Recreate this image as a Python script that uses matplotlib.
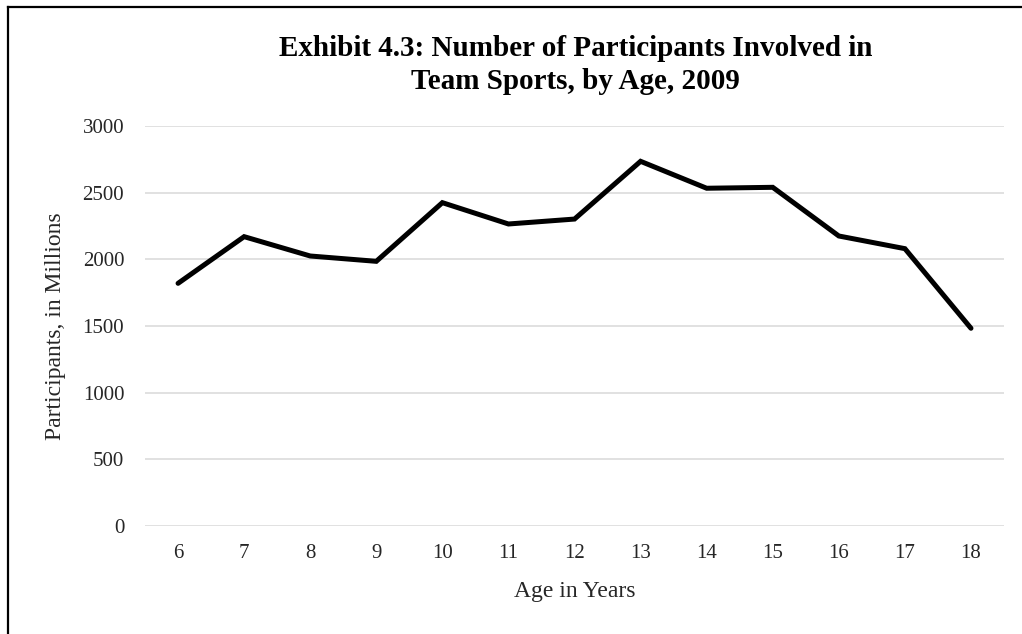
import matplotlib
matplotlib.use("Agg")
import matplotlib.pyplot as plt
from matplotlib.lines import Line2D

ages = [6, 7, 8, 9, 10, 11, 12, 13, 14, 15, 16, 17, 18]
participants = [1820, 2170, 2025, 1985, 2425, 2265, 2302, 2735, 2533, 2540, 2175, 2080, 1483]
y_ticks = [0, 500, 1000, 1500, 2000, 2500, 3000]

title = "Exhibit 4.3: Number of Participants Involved in\nTeam Sports, by Age, 2009"
x_label = "Age in Years"
y_label = "Participants, in Millions"

plt.rcParams["font.family"] = ["Liberation Serif", "DejaVu Serif"]

fig = plt.figure(figsize=(10.22, 6.34), dpi=100)
ax = fig.add_axes([0.1419, 0.1703, 0.8405, 0.6310])

ax.plot(ages, participants, color="black", linewidth=3.6,
        solid_joinstyle="miter", solid_capstyle="round", zorder=3)

ax.set_xlim(5.5, 18.5)
ax.set_ylim(0, 3000)
ax.set_xticks(ages)
ax.set_xticklabels([str(a) for a in ages])
ax.set_yticks(y_ticks)
ax.set_yticklabels([str(v) for v in y_ticks])
ax.tick_params(axis="both", length=0, labelsize=15, colors="#262626")
ax.tick_params(axis="y", pad=15)
ax.tick_params(axis="x", pad=13)
ax.grid(axis="y", color="#d9d9d9", linewidth=1.1)
ax.set_axisbelow(True)
for s in ax.spines.values():
    s.set_visible(False)

ax.set_xlabel(x_label, fontsize=17, color="#262626", labelpad=13)
ax.set_ylabel(y_label, fontsize=17, color="#262626", labelpad=12)

fig.text(0.563, 0.897, title, ha="center", va="center", fontsize=21,
         fontweight="bold", linespacing=1.3, color="black")

# Outer frame: top and left edges
fig.add_artist(Line2D([7.5 / 1022, 1.0], [1 - 6.5 / 634] * 2, color="black",
                      linewidth=1.6, transform=fig.transFigure))
fig.add_artist(Line2D([7.5 / 1022] * 2, [0.0, 1 - 6.5 / 634], color="black",
                      linewidth=1.6, transform=fig.transFigure))

fig.savefig("out.png", dpi=100)
